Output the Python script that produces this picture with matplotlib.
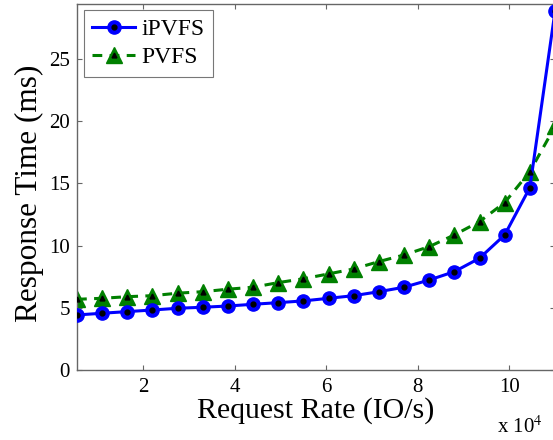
"""
Response time vs. request rate for iPVFS and PVFS.
"""
import matplotlib
matplotlib.use("Agg")
import matplotlib.pyplot as plt
from matplotlib.lines import Line2D

# Request rate in units of 10^4 IO/s
rate = [0.55, 1.10, 1.65, 2.20, 2.75, 3.30, 3.85, 4.40, 4.95, 5.50,
        6.05, 6.60, 7.15, 7.70, 8.25, 8.80, 9.35, 9.90, 10.45, 11.00]

# Response time (ms)
ipvfs = [4.42, 4.56, 4.69, 4.82, 4.96, 5.04, 5.14, 5.28, 5.41, 5.55,
         5.76, 5.97, 6.29, 6.65, 7.23, 7.90, 8.98, 10.85, 14.65, 28.8]
pvfs = [5.68, 5.76, 5.89, 5.97, 6.17, 6.29, 6.49, 6.65, 7.02, 7.33,
        7.72, 8.12, 8.71, 9.24, 9.91, 10.85, 11.92, 13.45, 15.94, 19.56]

xticks = [2, 4, 6, 8, 10]
yticks = [0, 5, 10, 15, 20, 25]

plt.rcParams["font.family"] = ["Liberation Serif", "DejaVu Serif"]
plt.rcParams["mathtext.fontset"] = "stix"

W, H = 553, 440
fig = plt.figure(figsize=(W / 100, H / 100), dpi=100)
ax = fig.add_axes([77 / W, 70 / H, (555 - 77) / W, 366 / H])

blue = "#0000ff"
green = "#008000"

ax.plot(rate, ipvfs, "-o", color=blue, lw=2.2, ms=9.5,
        mfc=blue, mec=blue, label="iPVFS", zorder=3)
ax.plot(rate, pvfs, "--^", color=green, lw=2.2, ms=11,
        mfc=green, mec=green, dashes=(3.2, 2.4), label="PVFS", zorder=2)
# black centre dots on the markers
ax.plot(rate, ipvfs, "o", color="black", ms=3.5, zorder=4)
ax.plot(rate, pvfs, "^", color="black", ms=3.5, zorder=4)

ax.set_xlim(0.55, 11.0)
ax.set_ylim(0, 29.4)
ax.set_xticks(xticks)
ax.set_yticks(yticks)

for s in ax.spines.values():
    s.set_color("#666666")
    s.set_linewidth(1.0)
ax.tick_params(direction="in", top=True, right=True, length=3.5,
               color="#666666", labelsize=15)
ax.tick_params(axis="x", pad=6)
ax.tick_params(axis="y", pad=5)

ax.set_xlabel("Request Rate (IO/s)", fontsize=21.5, labelpad=0)
ax.set_ylabel("Response Time (ms)", fontsize=22.5)
ax.yaxis.set_label_coords(-0.068, 0.482)

# multiplier for the x axis
fig.text(497 / W, 2 / H, "x 10$^{4}$", fontsize=15, va="bottom")

# legend with black-dotted handles
h1 = (Line2D([], [], color=blue, lw=2.2, marker="o", ms=9.5, mfc=blue, mec=blue),
      Line2D([], [], ls="none", marker="o", color="black", ms=3.5))
h2 = (Line2D([], [], color=green, lw=2.2, ls="--", dashes=(3.2, 2.4), marker="^", ms=11,
             mfc=green, mec=green),
      Line2D([], [], ls="none", marker="^", color="black", ms=3.5))
leg = ax.legend([h1, h2], ["iPVFS", "PVFS"], loc="upper left",
                bbox_to_anchor=(7 / 478, 1 - 6 / 366), borderaxespad=0,
                fontsize=17, fancybox=False, handlelength=1.8,
                handletextpad=0.3, borderpad=0.35, labelspacing=0.3)
leg.get_frame().set_edgecolor("#555555")
leg.get_frame().set_linewidth(0.8)

fig.savefig("out.png", dpi=100)
